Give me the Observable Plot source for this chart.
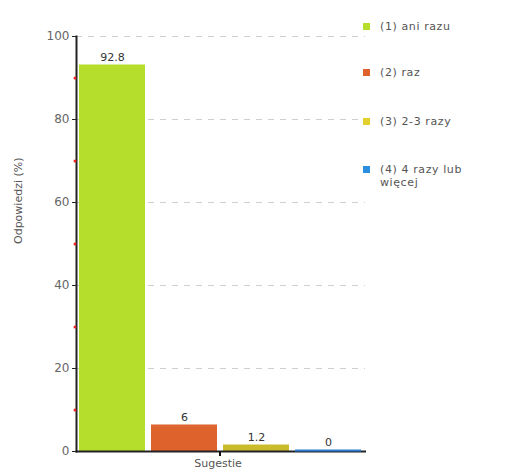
<!DOCTYPE html>
<html><head><meta charset="utf-8">
<script src="https://cdn.jsdelivr.net/npm/d3@7"></script>
<script src="https://cdn.jsdelivr.net/npm/@observablehq/plot@0.6"></script>
<style>
body{margin:0;background:#fff;font-family:"DejaVu Sans",sans-serif;}
#wrap{display:flex;width:515px;height:475px;}
#legend{position:relative;width:149px;font-size:11px;color:#555;letter-spacing:0.6px;}
.item{position:absolute;left:-3px;display:flex;align-items:flex-start;}
.sw{width:7px;height:7px;margin:3px 10px 0 0;flex:none;}
</style></head>
<body><div id="wrap"><div id="chart"></div><div id="legend"></div></div>
<script>
const categories = ["(1) ani razu", "(2) raz", "(3) 2-3 razy", "(4) 4 razy lub więcej"];
const values = [92.8, 6, 1.2, 0];
const barColors = ["#b5dd2c", "#de622b", "#c9bb2c", "#2c7dd0"];
const legendColors = ["#b5dd2c", "#de622b", "#e2d12c", "#2c8ee0"];
const labels = ["92.8", "6", "1.2", "0"];
const majorTicks = [0, 20, 40, 60, 80, 100];
const minorTicks = [10, 30, 50, 70, 90];
const gridTicks = [20, 40, 60, 80, 100];

const data = categories.map((c, i) => ({cat: c, value: values[i], label: labels[i], color: barColors[i]}));

const midTick = (index, scales, values_, dims) => {
  const x = scales.x;
  const xm = (x(categories[1]) + x.bandwidth() + x(categories[2])) / 2;
  const y0 = scales.y(0);
  const g = d3.create("svg:line")
    .attr("x1", xm).attr("x2", xm).attr("y1", y0).attr("y2", y0 + 5)
    .attr("stroke", "#111").attr("stroke-width", 2);
  return g.node();
};

const chart = Plot.plot({
  width: 366, height: 475,
  marginLeft: 76, marginRight: 1, marginTop: 36, marginBottom: 24,
  style: {fontFamily: "DejaVu Sans, sans-serif", fontSize: "11px", background: "#fff"},
  x: {domain: categories, paddingInner: 0.08, paddingOuter: 0.04},
  y: {domain: [0, 100]},
  marks: [
    Plot.gridY(gridTicks, {stroke: "#cfcfcf", strokeOpacity: 1, strokeDasharray: "6,6"}),
    Plot.barY(data, {x: "cat", y: "value", fill: "color"}),
    Plot.text(data, {x: "cat", y: "value", text: "label", dy: -9, fill: "#333", fontSize: 11, style: {letterSpacing: "1.5px"}}),
    Plot.frame({anchor: "left", stroke: "#222", strokeWidth: 2}),
    Plot.frame({anchor: "bottom", stroke: "#222", strokeWidth: 2}),
    Plot.tickY(data, {x: "cat", y: "value", stroke: "color", strokeWidth: 2, dy: -1}),
    Plot.axisY(majorTicks, {tickSize: 4, stroke: "#222", fill: "#666", tickPadding: 3, fontSize: 12, label: null, style: {letterSpacing: "1.5px"}}),
    Plot.dot(minorTicks, {y: d => d, frameAnchor: "left", dx: -1.5, r: 1.5, fill: "#e22", stroke: null}),
    Plot.axisX({ticks: [], label: null}),
    Plot.text(["Odpowiedzi (%)"], {frameAnchor: "left", dx: -58, rotate: -90, fill: "#555", fontSize: 11, style: {letterSpacing: "1.5px"}}),
    Plot.text(["Sugestie"], {frameAnchor: "bottom", dy: 15, dx: -3, fill: "#555", fontSize: 11, style: {letterSpacing: "1.5px"}}),
    midTick
  ]
});
document.getElementById("chart").appendChild(chart);

const tops = [20, 66, 115, 163];
const leg = document.getElementById("legend");
categories.forEach((c, i) => {
  const d = document.createElement("div");
  d.className = "item";
  d.style.top = tops[i] + "px";
  const sw = document.createElement("span");
  sw.className = "sw"; sw.style.background = legendColors[i];
  const t = document.createElement("span");
  t.textContent = c;
  t.style.width = "115px";
  t.style.lineHeight = "13px";
  d.appendChild(sw); d.appendChild(t);
  leg.appendChild(d);
});
</script></body></html>
